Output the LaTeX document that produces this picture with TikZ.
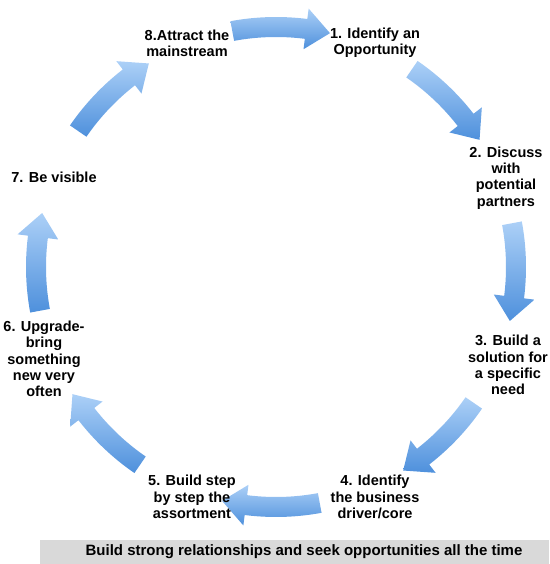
\documentclass[tikz,border=0pt]{standalone}
\usepackage{fontspec}
\setmainfont{Liberation Sans}
\definecolor{arrowtop}{RGB}{172,208,247}
\definecolor{arrowbot}{RGB}{78,144,220}
\definecolor{barfill}{RGB}{217,217,217}
\tikzset{
  lbl/.style={font=\bfseries\fontsize{14.5}{16.3}\selectfont, align=center, inner sep=0pt},
  arrowshade/.style={top color=arrowtop, bottom color=arrowbot},
}
% curved block arrow on the cycle, centred on angle #1, running clockwise
\newcommand\cyclearrow[1]{%
  \pgfmathsetmacro\ta{#1+10.5}%
  \pgfmathsetmacro\tb{#1-13}%
  \pgfmathsetmacro\th{#1-13+5.8}%
  \shade[arrowshade]
    (\ta:250pt) arc[start angle=\ta, end angle=\th, radius=250pt]
    -- (\th:260.5pt) -- (\tb:240pt) -- (\th:219.5pt) -- (\th:230pt)
    arc[start angle=\th, end angle=\ta, radius=230pt] -- cycle;
}
\begin{document}
\begin{tikzpicture}[x=1pt, y=1pt]
  \useasboundingbox (0,0) rectangle (549,564);

  % ring of arrows
  \begin{scope}[shift={(276pt,297pt)}]
    \foreach \a in {90,45,0,-45,-90,-135,180,135} {\cyclearrow{\a}}
  \end{scope}

  % step labels
  \node[lbl] (s1) at (375,521) {1. Identify an\\Opportunity};
  \node[lbl] (s2) at (506,386) {2. Discuss\\with\\potential\\partners};
  \node[lbl] (s3) at (508,199) {3. Build a\\solution for\\a specific\\need};
  \node[lbl] (s4) at (375,67) {4. Identify\\the business\\driver/core};
  \node[lbl] (s5) at (192,67) {5. Build step\\by step the\\assortment};
  \node[lbl] (s6) at (44,205) {6. Upgrade-\\bring\\something\\new very\\often};
  \node[lbl] (s7) at (54,387) {7. Be visible};
  \node[lbl] (s8) at (187,521) {8.Attract the\\mainstream};

  % footer bar
  \fill[barfill] (40,0) rectangle (549,24);
  \node[lbl, font=\bfseries\fontsize{15}{17}\selectfont] (footer) at (304,12)
    {Build strong relationships and seek opportunities all the time};
\end{tikzpicture}
\end{document}
